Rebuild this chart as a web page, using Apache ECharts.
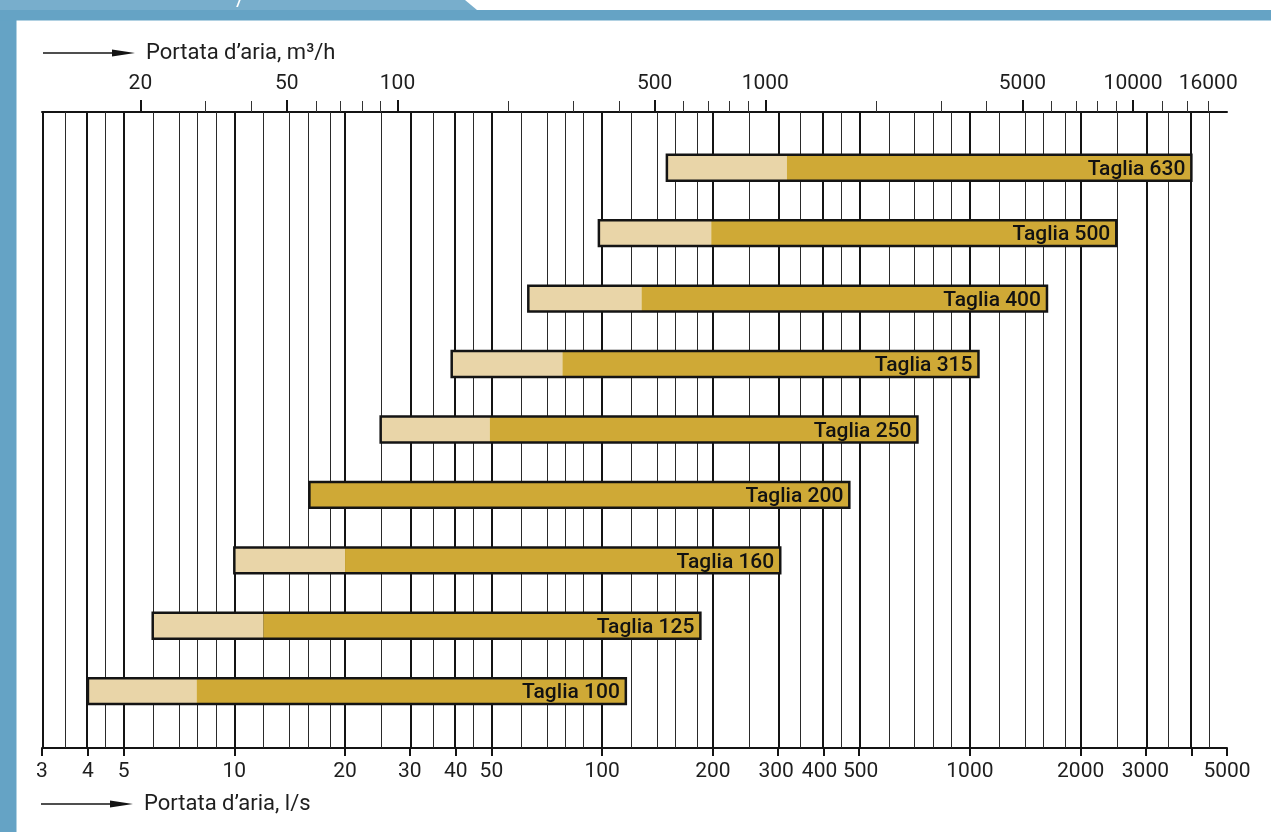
<!DOCTYPE html>
<html>
<head>
<meta charset="utf-8">
<script src="https://cdn.jsdelivr.net/npm/echarts@6/dist/echarts.min.js"></script>
<style>
html,body{margin:0;padding:0;background:#ffffff;}
#chart{width:1271px;height:832px;}
</style>
</head>
<body>
<div id="chart"></div>
<script>
// ---- data (air flow, l/s) ----
const sizes      = ['Taglia 100','Taglia 125','Taglia 160','Taglia 200','Taglia 250','Taglia 315','Taglia 400','Taglia 500','Taglia 630'];
const startLs    = [4, 6, 10, 16, 25, 39, 63, 98, 150];
const lightEndLs = [7.9, 12, 20, null, 49.5, 78, 128, 198, 318];
const endLs      = [116, 185, 305, 470, 720, 1055, 1620, 2500, 4000];

// ---- axis ticks ----
const lsMajor  = [3,4,5,10,20,30,40,50,100,200,300,400,500,1000,2000,3000,4000,5000];
const lsLabels = [3,4,5,10,20,30,40,50,100,200,300,400,500,1000,2000,3000,5000];
const lsMinor  = [3.5,4.5,6,7,8,9,12,14,16,18,25,35,45,60,70,80,90,120,140,160,180,250,350,450,600,700,800,900,1200,1400,1600,1800,2500,3500,4500];
const m3hTicks  = [20,30,40,50,60,70,80,90,100,200,300,400,500,600,700,800,900,1000,2000,3000,4000,5000,6000,7000,8000,9000,10000,12000,14000,16000];
const m3hLabels = [20,50,100,500,1000,5000,10000,16000];
const M3H_PER_LS = 3.6;

const L = Math.log10;
const X_MIN = L(3), X_MAX = L(5000);

const light = '#e9d5a8';
const dark  = '#cfa936';
const ink   = '#141414';
const blue  = '#65a3c5';
const blue2 = '#78aecc';
const labelFont = { fontFamily: 'Roboto', fontSize: 21, color: '#1e1e1e' };
// small nudges so crowded bottom labels do not touch (style only)
const nudge = { 300: 'l1', 400: 'l2', 500: 'r1' };

const seriesData = sizes.map((s, i) => [
  L(startLs[i]),
  L(lightEndLs[i] == null ? startLs[i] : lightEndLs[i]),
  L(endLs[i]),
  i
]);

const gridLines = []
  .concat(lsMinor.map(v => ({ xAxis: L(v), lineStyle: { width: 1, color: '#2a2a2a', type: 'solid' } })))
  .concat(lsMajor.map(v => ({ xAxis: L(v), lineStyle: { width: 2, color: ink, type: 'solid' } })));

const chart = echarts.init(document.getElementById('chart'), null, { renderer: 'canvas' });

chart.setOption({
  animation: false,
  backgroundColor: '#ffffff',
  grid: { left: 42, right: 44, top: 112, bottom: 84, containLabel: false, outerBoundsMode: 'none' },
  xAxis: [
    {
      type: 'value', position: 'bottom', min: X_MIN, max: X_MAX,
      axisLine: { show: true, onZero: false, lineStyle: { color: ink, width: 2 } },
      axisTick: { show: true, customValues: lsMajor.map(L), length: 8, lineStyle: { color: ink, width: 2 } },
      axisLabel: Object.assign({
        customValues: lsLabels.map(L), margin: 13,
        formatter: v => { const n = Math.round(Math.pow(10, v)); return nudge[n] ? '{' + nudge[n] + '|' + n + '}' : String(n); },
        rich: {
          l1: Object.assign({ padding: [0, 3, 0, 0] }, labelFont),
          l2: Object.assign({ padding: [0, 8, 0, 0] }, labelFont),
          r1: Object.assign({ padding: [0, 0, 0, 3] }, labelFont)
        }
      }, labelFont),
      splitLine: { show: false }
    },
    {
      type: 'value', position: 'top', min: X_MIN, max: X_MAX,
      axisLine: { show: true, onZero: false, lineStyle: { color: ink, width: 2 } },
      axisTick: { show: true, customValues: m3hTicks.map(v => L(v / M3H_PER_LS)), length: 11, lineStyle: { color: '#333', width: 1 } },
      axisLabel: Object.assign({ customValues: m3hLabels.map(v => L(v / M3H_PER_LS)), margin: 18,
        formatter: v => String(Math.round(Math.pow(10, v) * M3H_PER_LS)) }, labelFont),
      splitLine: { show: false }
    },
    {
      type: 'value', position: 'top', min: X_MIN, max: X_MAX,
      axisLine: { show: false, onZero: false },
      axisTick: { show: true, customValues: m3hLabels.slice(0, -1).map(v => L(v / M3H_PER_LS)), length: 12, lineStyle: { color: ink, width: 2 } },
      axisLabel: { show: false },
      splitLine: { show: false }
    }
  ],
  yAxis: { type: 'value', min: -0.8685, max: 8.852, show: false, splitLine: { show: false } },
  series: [{
    type: 'custom',
    coordinateSystem: 'cartesian2d',
    xAxisIndex: 0, yAxisIndex: 0,
    z: 3,
    encode: { x: [0, 1, 2], y: 3 },
    data: seriesData,
    renderItem: function (params, api) {
      const y = api.value(3);
      const pS = api.coord([api.value(0), y]);
      const pL = api.coord([api.value(1), y]);
      const pE = api.coord([api.value(2), y]);
      const h = api.size([0, 1])[1] * 0.395;
      const top = pS[1] - h / 2;
      return {
        type: 'group',
        children: [
          { type: 'rect', shape: { x: pS[0], y: top, width: pL[0] - pS[0], height: h }, style: { fill: light } },
          { type: 'rect', shape: { x: pL[0], y: top, width: pE[0] - pL[0], height: h }, style: { fill: dark } },
          { type: 'rect', shape: { x: pS[0], y: top, width: pE[0] - pS[0], height: h }, style: { fill: null, stroke: ink, lineWidth: 2.5 } },
          { type: 'text', style: { text: sizes[params.dataIndex], x: pE[0] - 6, y: pS[1] + 2, align: 'right', verticalAlign: 'middle',
              font: '500 21px Roboto', fill: '#121212' } }
        ]
      };
    },
    markLine: {
      silent: true, z: 1, symbol: ['none', 'none'], animation: false,
      label: { show: false }, emphasis: { disabled: true },
      data: gridLines
    }
  }],
  graphic: [
    { type: 'rect', shape: { x: 0, y: 0, width: 16.5, height: 832 }, style: { fill: blue }, z: 10 },
    { type: 'rect', shape: { x: 0, y: 10, width: 1271, height: 10.5 }, style: { fill: blue }, z: 10 },
    { type: 'polygon', shape: { points: [[0, 0], [465, 0], [477, 10], [0, 10]] }, style: { fill: blue2 }, z: 10 },
    { type: 'text', style: { text: '/', x: 236, y: 11, verticalAlign: 'bottom', font: '22px Roboto', fill: '#ffffff' }, z: 11 },
    // top title
    { type: 'line', shape: { x1: 43, y1: 53, x2: 120, y2: 53 }, style: { stroke: ink, lineWidth: 1.3 }, z: 10 },
    { type: 'polygon', shape: { points: [[112, 49.5], [135, 53], [112, 56.5]] }, style: { fill: ink }, z: 10 },
    { type: 'text', style: { text: 'Portata d’aria, m³/h', x: 146, y: 53, verticalAlign: 'middle', font: '22px Roboto', fill: '#1e1e1e' }, z: 10 },
    // bottom title
    { type: 'line', shape: { x1: 41, y1: 804, x2: 118, y2: 804 }, style: { stroke: ink, lineWidth: 1.3 }, z: 10 },
    { type: 'polygon', shape: { points: [[110, 800.5], [133, 804], [110, 807.5]] }, style: { fill: ink }, z: 10 },
    { type: 'text', style: { text: 'Portata d’aria, l/s', x: 144, y: 804, verticalAlign: 'middle', font: '22px Roboto', fill: '#1e1e1e' }, z: 10 }
  ]
});
</script>
</body>
</html>
